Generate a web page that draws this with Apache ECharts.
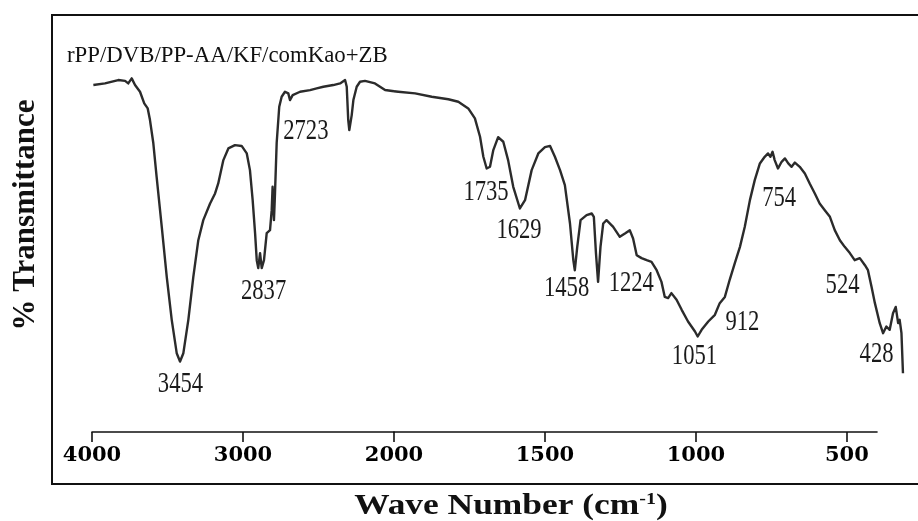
<!DOCTYPE html>
<html>
<head>
<meta charset="utf-8">
<script src="https://cdn.jsdelivr.net/npm/echarts@6/dist/echarts.min.js"></script>
<style>
  html, body { margin: 0; padding: 0; background: #fff; }
  #chart { width: 918px; height: 521px; }
</style>
</head>
<body>
<div id="chart"></div>
<script>
// ---- data ----
const wavenumbers = [
  3991, 3914, 3826, 3781, 3760, 3737, 3715, 3682, 3654, 3631,
  3616, 3594, 3572, 3538, 3505, 3472, 3439, 3417, 3395, 3362,
  3329, 3296, 3263, 3218, 3185, 3164, 3130, 3097, 3053, 3009,
  2975, 2954, 2936, 2920, 2909, 2899, 2887, 2876, 2861, 2843,
  2821, 2810, 2804, 2795, 2788, 2777, 2760, 2744, 2722, 2700,
  2689, 2671, 2622, 2556, 2512, 2468, 2402, 2357, 2324, 2313,
  2303, 2296, 2280, 2269, 2247, 2225, 2192, 2126, 2059, 2000,
  1986, 1930, 1875, 1820, 1787, 1754, 1732, 1715, 1704, 1693,
  1682, 1671, 1655, 1638, 1622, 1605, 1583, 1566, 1544, 1522,
  1500, 1483, 1467, 1450, 1434, 1417, 1406, 1401, 1393, 1382,
  1362, 1345, 1338, 1331, 1324, 1316, 1307, 1296, 1274, 1252,
  1235, 1219, 1208, 1196, 1180, 1163, 1147, 1130, 1114, 1103,
  1092, 1081, 1064, 1047, 1026, 1003, 994, 981, 959, 937,
  921, 904, 888, 871, 854, 838, 821, 805, 788, 772,
  761, 753, 746, 739, 728, 716, 705, 694, 683, 672,
  656, 639, 623, 606, 590, 573, 556, 540, 523, 507,
  490, 474, 457, 440, 430, 418, 407, 391, 380, 369,
  358, 347, 338, 330, 325, 319, 314
];
const transmittance = [
  83.2, 83.6, 84.4, 84.2, 83.6, 84.8, 83.2, 81.6, 78.8, 77.6,
  74.8, 69.3, 61.2, 49.2, 37.2, 26.9, 18.9, 16.9, 18.9, 26.9,
  37.2, 46.0, 50.8, 54.8, 57.2, 59.6, 65.2, 68.0, 68.8, 68.6,
  66.8, 62.8, 55.6, 47.7, 41.2, 39.3, 42.9, 39.3, 41.2, 47.7,
  48.4, 53.2, 58.8, 50.8, 57.3, 69.3, 78.0, 80.4, 81.6, 81.2,
  79.6, 80.8, 81.6, 82.0, 82.4, 82.8, 83.2, 83.6, 84.4, 82.8,
  74.8, 72.4, 76.0, 79.6, 82.8, 84.0, 84.2, 83.6, 82.0, 81.7,
  81.6, 81.2, 80.4, 79.8, 79.2, 77.6, 75.2, 70.8, 66.0, 63.2,
  63.6, 67.6, 70.7, 69.6, 65.2, 58.8, 53.6, 55.6, 62.8, 66.8,
  68.3, 68.6, 66.0, 62.8, 59.2, 50.0, 41.2, 38.8, 44.4, 50.8,
  52.0, 52.4, 51.6, 42.9, 36.0, 44.4, 50.0, 50.8, 49.2, 46.8,
  47.6, 48.4, 46.4, 42.4, 41.7, 41.2, 40.8, 38.8, 36.0, 32.4,
  32.1, 33.3, 31.7, 29.3, 26.5, 24.1, 22.9, 24.5, 26.5, 28.1,
  30.9, 32.4, 36.5, 40.5, 44.4, 49.2, 55.6, 60.4, 64.4, 66.0,
  66.8, 66.0, 67.2, 65.2, 63.2, 64.8, 65.6, 64.4, 63.6, 64.6,
  63.6, 62.0, 59.6, 57.2, 54.8, 53.2, 51.6, 48.4, 46.0, 44.4,
  42.9, 41.2, 41.7, 40.0, 38.8, 34.8, 30.9, 26.1, 23.7, 25.3,
  24.5, 28.5, 30.0, 26.1, 26.9, 23.7, 14.1
];
const peakLabels = [3454, 2837, 2723, 1735, 1629, 1458, 1224, 1051, 912, 754, 524, 428];
const tickLabelsHigh = [4000, 3000, 2000];
const tickLabelsLow = [1500, 1000, 500];
const sampleName = 'rPP/DVB/PP-AA/KF/comKao+ZB';
const xTitle = 'Wave Number (cm';
const yTitle = '% Transmittance';

// ---- styling (label offsets in px relative to the curve at the labelled wavenumber) ----
const labelOffsets = [[6,46],[-4,59],[21,39],[12,75],[13,78],[9,125],[3,52],[14,49],[20,23],[9,42],[3,46],[8,81]];

const n = Math.min(wavenumbers.length, transmittance.length);
const pts = [];
for (let i = 0; i < n; i++) pts.push([wavenumbers[i], transmittance[i]]);
const highPts = pts.filter(p => p[0] >= 2000);
const lowPts = pts.filter(p => p[0] <= 2000);

function interpT(w) {
  for (let i = 0; i < n - 1; i++) {
    const a = wavenumbers[i], b = wavenumbers[i + 1];
    if (w <= a && w >= b) {
      const t = (a - w) / (a - b);
      return transmittance[i] + t * (transmittance[i + 1] - transmittance[i]);
    }
  }
  return transmittance[n - 1];
}
const labelData = peakLabels.map((w, i) => [w, interpT(w), i]);
const labelHigh = labelData.filter(d => d[0] >= 2000);
const labelLow = labelData.filter(d => d[0] < 2000);

const serif = '"Liberation Serif", "Times New Roman", serif';
const lineColor = '#2b2b2b';

function renderLabel(params, api) {
  const p = api.coord([api.value(0), api.value(1)]);
  const idx = api.value(2);
  const off = labelOffsets[idx];
  return {
    type: 'text',
    x: p[0] + off[0],
    y: p[1] + off[1],
    scaleX: 0.78,
    style: {
      text: String(peakLabels[idx]),
      font: '29px ' + serif,
      fill: '#1a1a1a',
      align: 'center',
      verticalAlign: 'middle'
    }
  };
}

const tickStyle = { color: '#111', width: 1.6 };
const labelStyle = {
  show: true, margin: 13, color: '#000',
  fontFamily: '"DejaVu Serif", serif', fontWeight: 'bold', fontSize: 21,
  formatter: v => String(v)
};

const chart = echarts.init(document.getElementById('chart'), null, { renderer: 'canvas' });
chart.setOption({
  backgroundColor: '#fff',
  animation: false,
  grid: [
    { left: 92, width: 302, top: 15, height: 417 },        // 4000-2000 cm-1
    { left: 394, width: 513.2, top: 15, height: 417 },     // 2000-300 cm-1 (data)
    { left: 394, width: 483, top: 15, height: 417 }        // 2000-400 cm-1 (axis line)
  ],
  xAxis: [
    {
      type: 'value', inverse: true, gridIndex: 0, min: 2000, max: 4000,
      axisLine: { show: true, onZero: false, lineStyle: tickStyle },
      axisTick: { show: true, inside: false, length: 10, lineStyle: tickStyle, customValues: tickLabelsHigh },
      axisLabel: Object.assign({}, labelStyle, { customValues: tickLabelsHigh }),
      splitLine: { show: false }
    },
    {
      type: 'value', inverse: true, gridIndex: 1, min: 300, max: 2000,
      axisLine: { show: false, onZero: false },
      axisTick: { show: true, inside: false, length: 10, lineStyle: tickStyle, customValues: tickLabelsLow },
      axisLabel: Object.assign({}, labelStyle, { customValues: tickLabelsLow }),
      splitLine: { show: false }
    },
    {
      type: 'value', inverse: true, gridIndex: 2, min: 400, max: 2000,
      axisLine: { show: true, onZero: false, lineStyle: tickStyle },
      axisTick: { show: false }, axisLabel: { show: false },
      splitLine: { show: false }
    }
  ],
  yAxis: [
    { type: 'value', gridIndex: 0, min: 0, max: 100, show: false },
    { type: 'value', gridIndex: 1, min: 0, max: 100, show: false },
    { type: 'value', gridIndex: 2, min: 0, max: 100, show: false }
  ],
  series: [
    {
      type: 'line', xAxisIndex: 0, yAxisIndex: 0, data: highPts,
      showSymbol: false, clip: false, smooth: false,
      lineStyle: { color: lineColor, width: 2.4, join: 'round' }
    },
    {
      type: 'line', xAxisIndex: 1, yAxisIndex: 1, data: lowPts,
      showSymbol: false, clip: false, smooth: false,
      lineStyle: { color: lineColor, width: 2.4, join: 'round' }
    },
    { type: 'custom', xAxisIndex: 0, yAxisIndex: 0, data: labelHigh, renderItem: renderLabel, clip: false, silent: true },
    { type: 'custom', xAxisIndex: 1, yAxisIndex: 1, data: labelLow, renderItem: renderLabel, clip: false, silent: true }
  ],
  graphic: [
    {
      type: 'rect', silent: true, z: 100,
      shape: { x: 52, y: 15, width: 880, height: 469 },
      style: { fill: 'none', stroke: '#111', lineWidth: 2 }
    },
    {
      type: 'text', silent: true, x: 67, y: 56, scaleX: 0.95,
      style: { text: sampleName, font: '24px ' + serif, fill: '#111', align: 'left', verticalAlign: 'middle' }
    },
    {
      type: 'text', silent: true, x: 26, y: 215, rotation: Math.PI / 2,
      style: { text: yTitle, font: 'bold 31px ' + serif, fill: '#111', align: 'center', verticalAlign: 'middle' }
    },
    {
      type: 'text', silent: true, x: 511, y: 506, scaleX: 1.18,
      style: {
        text: '{a|' + xTitle + '}{s|-1}{a|)}',
        align: 'center', verticalAlign: 'middle',
        rich: {
          a: { font: 'bold 30px ' + serif, fill: '#111', color: '#111' },
          s: { font: 'bold 17px ' + serif, fill: '#111', color: '#111', verticalAlign: 'top' }
        }
      }
    }
  ]
});
</script>
</body>
</html>
